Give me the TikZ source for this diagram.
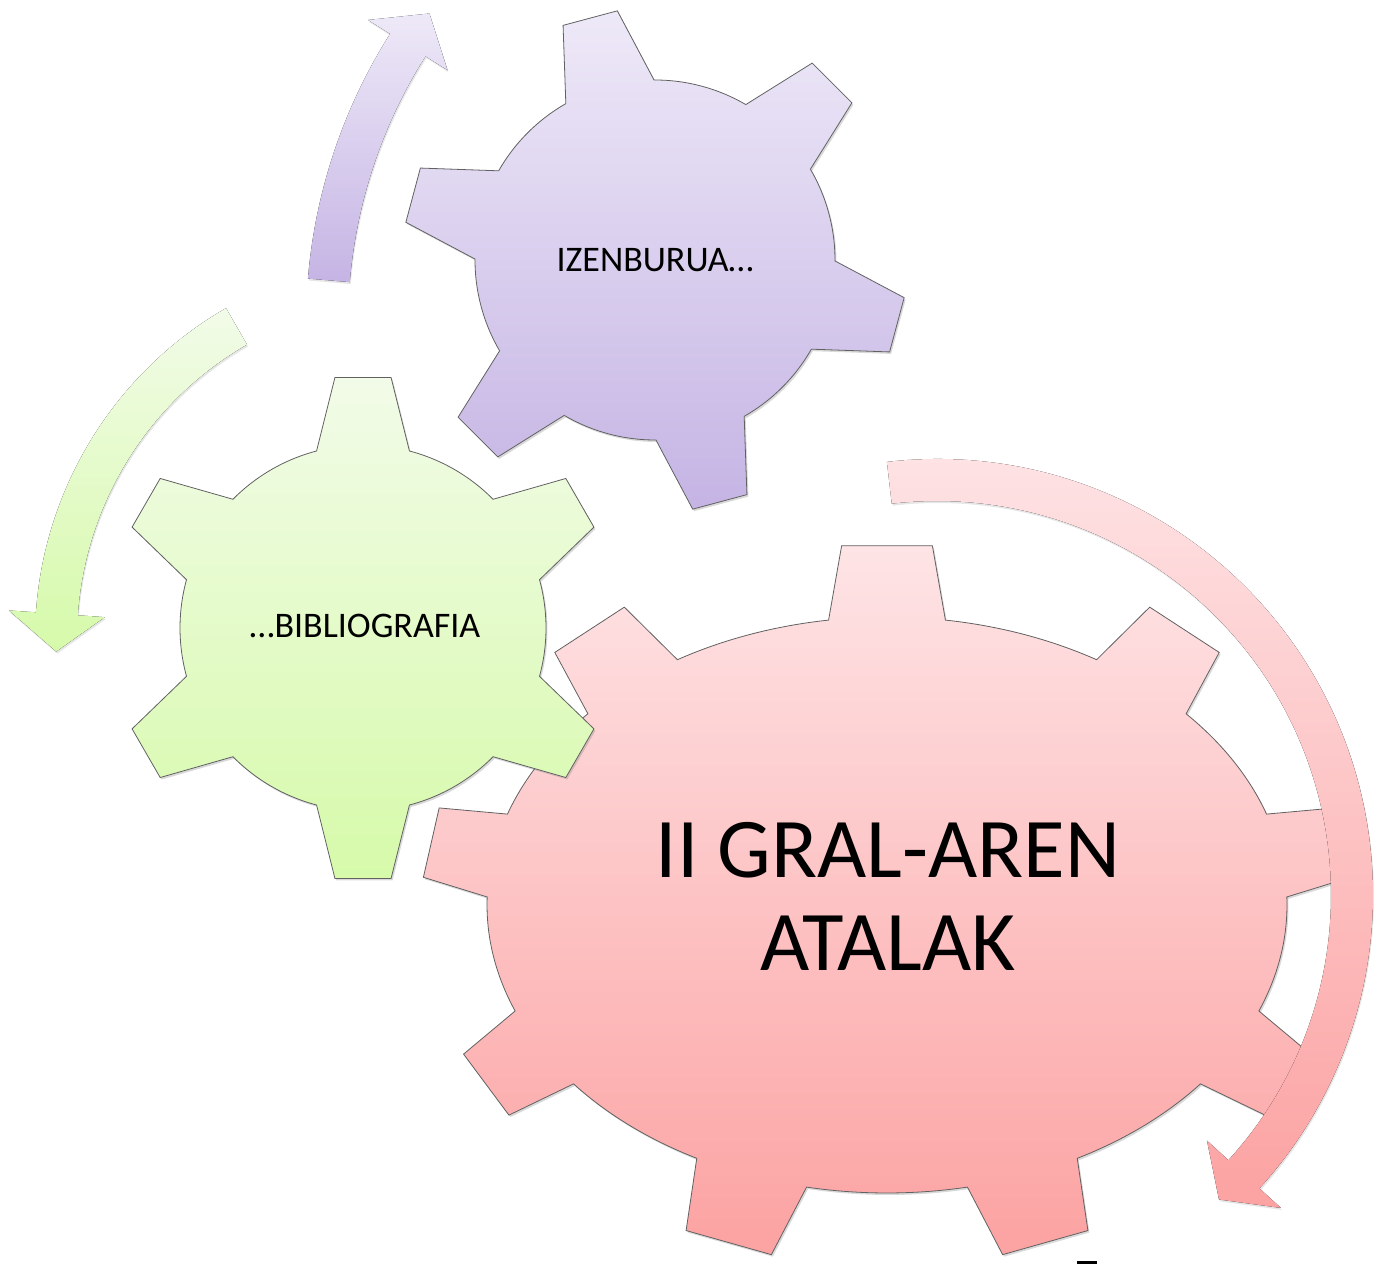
\documentclass[tikz,border=0pt]{standalone}
\usepackage{fontspec}
\setmainfont{Carlito}
\usetikzlibrary{shadows}
\definecolor{lilatop}{RGB}{238,233,248}
\definecolor{lilabot}{RGB}{197,180,228}
\definecolor{berdetop}{RGB}{242,251,232}
\definecolor{berdebot}{RGB}{214,250,170}
\definecolor{gorritop}{RGB}{254,228,230}
\definecolor{gorribot}{RGB}{252,162,162}

% gear outline: teeth, inner rx/ry, outer Rx/Ry, first tooth angle, half widths (base, tip)
\newcommand{\gearpath}[8]{({#2*cos(#6-#7)},{#3*sin(#6-#7)})
  \foreach \k [evaluate=\k as \ga using #6+(\k-1)*360/#1] in {1,...,#1} {
    -- ({#4*cos(\ga-#8)},{#5*sin(\ga-#8)})
    -- ({#4*cos(\ga+#8)},{#5*sin(\ga+#8)})
    -- ({#2*cos(\ga+#7)},{#3*sin(\ga+#7)})
    arc[start angle={\ga+#7}, end angle={\ga+360/#1-#7}, x radius=#2, y radius=#3]
  } -- cycle}
% bent arrow: mid radius, start angle, head angle, tip angle, head half width
\newcommand{\bentpath}[5]{({#2}:{#1+21})
  arc[start angle=#2, end angle=#3, radius=#1+21]
  -- ({#3}:{#1+#5}) -- ({#4}:{#1}) -- ({#3}:{#1-#5}) -- ({#3}:{#1-21})
  arc[start angle=#3, end angle=#2, radius=#1-21] -- cycle}

\begin{document}
\begin{tikzpicture}[x=1pt, y=1pt,
  gearbody/.style={draw=black!62, line width=0.8pt,
    drop shadow={shadow xshift=1.5pt, shadow yshift=-2pt, opacity=0.3}},
  bent/.style={drop shadow={shadow xshift=1pt, shadow yshift=-2pt, opacity=0.2}},
  lbl/.style={font=\fontsize{36}{40}\selectfont, inner sep=0pt},
  big/.style={font=\fontsize{85}{93}\selectfont, align=center, inner sep=0pt},
]
\useasboundingbox (0,0) rectangle (1378,1264);

% gears, back to front
\draw[gearbody, shift={(887,359)}, top color=gorritop, bottom color=gorribot]
  \gearpath{9}{400}{288}{465}{361}{90}{8.4}{5.6};
\draw[gearbody, shift={(363,636)}, top color=berdetop, bottom color=berdebot]
  \gearpath{6}{183}{183}{252}{252}{90}{14.7}{6.4};
\draw[gearbody, shift={(655,1004)}, top color=lilatop, bottom color=lilabot]
  \gearpath{6}{180}{180}{252}{252}{-15}{14.7}{6.4};

% arrows
\fill[bent, shift={(849,940)}, top color=lilatop, bottom color=lilabot]
  \bentpath{522}{175.2}{147.7}{143.5}{47};
\fill[bent, shift={(417,625)}, top color=berdetop, bottom color=berdebot]
  \bentpath{361}{120}{176}{182}{48};
\fill[bent, shift={(937,369)}, top color=gorritop, bottom color=gorribot]
  \bentpath{415}{96.6}{-42.3}{-47.2}{50};

\node[lbl] (izen) at (655,1004) {IZENBURUA…};
\node[lbl] (biblio) at (365,638) {…BIBLIOGRAFIA};
\node[big] (atal) at (888,368) {II GRAL-AREN\\ATALAK};

\fill (1077,0) rectangle (1097,3);
\end{tikzpicture}
\end{document}
